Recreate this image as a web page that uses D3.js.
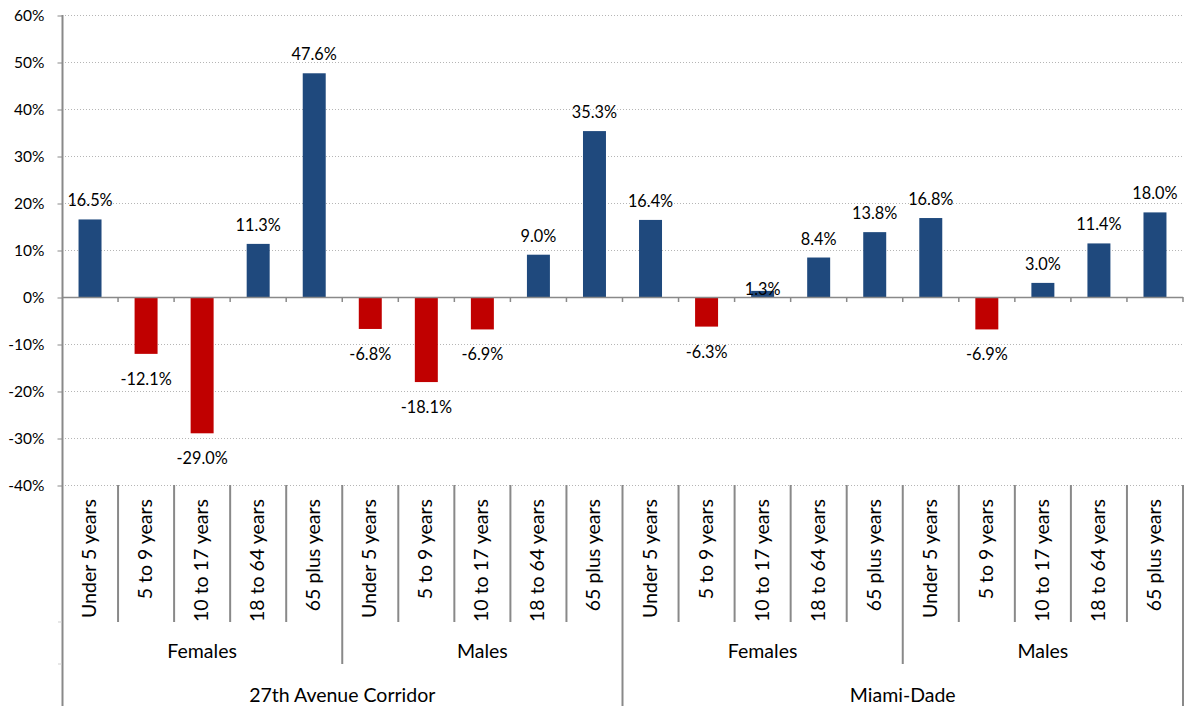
<!DOCTYPE html>
<html>
<head>
<meta charset="utf-8">
<script src="https://cdn.jsdelivr.net/npm/d3@7"></script>
<style>
  body { margin: 0; background: #fff; }
  text { font-family: Lato, "Open Sans", sans-serif; fill: #000; }
</style>
</head>
<body>
<div id="chart"></div>
<script>
// categories
const ages = ["Under 5 years", "5 to 9 years", "10 to 17 years", "18 to 64 years", "65 plus years"];
const sexes = ["Females", "Males"];
const areas = ["27th Avenue Corridor", "Miami-Dade"];

// percent change, in order area > sex > age
const corridorFemales = [16.5, -12.1, -29.0, 11.3, 47.6];
const corridorMales = [-6.8, -18.1, -6.9, 9.0, 35.3];
const dadeFemales = [16.4, -6.3, 1.3, 8.4, 13.8];
const dadeMales = [16.8, -6.9, 3.0, 11.4, 18.0];

const yTicks = [-40, -30, -20, -10, 0, 10, 20, 30, 40, 50, 60];

const seriesByArea = [[corridorFemales, corridorMales], [dadeFemales, dadeMales]];
const data = [];
areas.forEach((a, ai) => {
  sexes.forEach((s, si) => {
    ages.forEach((g, gi) => {
      data.push({ key: ai + "-" + si + "-" + gi, area: a, sex: s, age: g, value: seriesByArea[ai][si][gi] });
    });
  });
});

const W = 1184, H = 706;
const plotLeft = 62, plotRight = 1183, plotTop = 15, plotBottom = 485;

const svg = d3.select("#chart").append("svg")
  .attr("width", W)
  .attr("height", H);

const x = d3.scaleBand()
  .domain(data.map(d => d.key))
  .range([plotLeft, plotRight])
  .paddingInner(0.59)
  .paddingOuter(0.295);

const step = (plotRight - plotLeft) / data.length;

const y = d3.scaleLinear()
  .domain([-40, 60])
  .range([plotBottom, plotTop]);

const gray = "#898989";

// gridlines (dotted)
svg.append("g")
  .selectAll("line")
  .data(yTicks.filter(t => t !== 0))
  .enter()
  .append("line")
  .attr("x1", plotLeft).attr("x2", plotRight)
  .attr("y1", d => y(d) + 0.5).attr("y2", d => y(d) + 0.5)
  .style("stroke", "#b5b5b5")
  .style("stroke-width", 1)
  .style("stroke-dasharray", "1,2");

// y-axis
const yAxis = d3.axisLeft(y)
  .tickValues(yTicks)
  .tickSize(5)
  .tickFormat(d => d + "%");

const yg = svg.append("g")
  .attr("transform", "translate(" + (plotLeft + 0.5) + ",0.5)")
  .call(yAxis);
yg.select(".domain").remove();
yg.selectAll(".tick line").style("stroke", gray);
yg.selectAll(".tick text")
  .attr("x", -18)
  .style("font-size", "15.5px")
  .style("font-family", "Lato, sans-serif");

// left axis line, reaching the bottom
svg.append("line")
  .attr("x1", plotLeft + 0.5).attr("x2", plotLeft + 0.5)
  .attr("y1", plotTop).attr("y2", H)
  .style("stroke", gray)
  .style("stroke-width", 2);

// bars
svg.append("g")
  .selectAll("rect")
  .data(data)
  .enter()
  .append("rect")
  .attr("x", d => x(d.key))
  .attr("width", x.bandwidth())
  .attr("y", d => y(Math.max(0, d.value)))
  .attr("height", d => Math.abs(y(d.value) - y(0)))
  .style("fill", d => d.value >= 0 ? "#1f497d" : "#c00000");

// zero line with small ticks
svg.append("line")
  .attr("x1", plotLeft).attr("x2", plotRight)
  .attr("y1", y(0) + 0.5).attr("y2", y(0) + 0.5)
  .style("stroke", gray)
  .style("stroke-width", 1.5);

svg.append("g")
  .selectAll("line")
  .data(d3.range(1, data.length + 1))
  .enter()
  .append("line")
  .attr("x1", i => plotLeft + i * step).attr("x2", i => plotLeft + i * step)
  .attr("y1", y(0)).attr("y2", y(0) + 5)
  .style("stroke", gray)
  .style("stroke-width", 1.5);

// data labels (the tiny 1.3% one sits on its bar, as in the original)
svg.append("g")
  .selectAll("text")
  .data(data)
  .enter()
  .append("text")
  .attr("x", d => x(d.key) + x.bandwidth() / 2)
  .attr("y", d => {
    if (d.value >= 0 && d.value < 2) return y(0) - 2;
    return d.value >= 0 ? y(d.value) - 13 : y(d.value) + 31;
  })
  .attr("text-anchor", "middle")
  .style("font-size", "16.3px")
  .text(d => d.value.toFixed(1) + "%");

// category axis lines: level 1 (age), 2 (sex), 3 (area)
const lvl1 = 622, lvl2 = 664;
svg.append("g")
  .selectAll("line")
  .data(d3.range(1, data.length + 1))
  .enter()
  .append("line")
  .attr("x1", i => plotLeft + i * step).attr("x2", i => plotLeft + i * step)
  .attr("y1", plotBottom)
  .attr("y2", i => i % 10 === 0 ? H : (i % 5 === 0 ? lvl2 : lvl1))
  .style("stroke", gray)
  .style("stroke-width", 2);

// small ticks on left axis at level boundaries
svg.append("g")
  .selectAll("line")
  .data([lvl1, lvl2])
  .enter()
  .append("line")
  .attr("x1", plotLeft - 4).attr("x2", plotLeft)
  .attr("y1", d => d).attr("y2", d => d)
  .style("stroke", "#cfcfcf");

// rotated age labels
svg.append("g")
  .selectAll("text")
  .data(data)
  .enter()
  .append("text")
  .attr("transform", d => "translate(" + (x(d.key) + x.bandwidth() / 2 + 6) + ",499) rotate(-90)")
  .attr("text-anchor", "end")
  .style("font-size", "19.5px")
  .text(d => d.age);

// sex labels
const sexGroups = [];
areas.forEach((a, ai) => sexes.forEach((s, si) => sexGroups.push({ label: s, idx: ai * 2 + si })));
svg.append("g")
  .selectAll("text")
  .data(sexGroups)
  .enter()
  .append("text")
  .attr("x", d => plotLeft + (d.idx * 5 + 2.5) * step)
  .attr("y", 658)
  .attr("text-anchor", "middle")
  .style("font-size", "19.5px")
  .text(d => d.label);

// area labels
svg.append("g")
  .selectAll("text")
  .data(areas)
  .enter()
  .append("text")
  .attr("x", (d, i) => plotLeft + (i * 10 + 5) * step)
  .attr("y", 702)
  .attr("text-anchor", "middle")
  .style("font-size", "19.5px")
  .text(d => d);
</script>
</body>
</html>
